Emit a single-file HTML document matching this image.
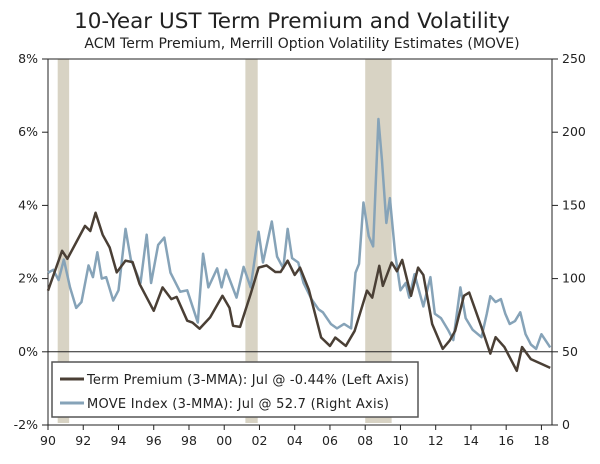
<!DOCTYPE html>
<html><head><meta charset="utf-8"><style>
body{margin:0;background:#fff;}
svg{display:block;font-family:"DejaVu Sans","Liberation Sans",sans-serif;}
</style></head><body>
<svg id="chart" width="600" height="464">
<text x="292" y="28" text-anchor="middle" font-size="21.5" fill="#222">10-Year UST Term Premium and Volatility</text>
<text x="302" y="48" text-anchor="middle" font-size="14" fill="#222">ACM Term Premium, Merrill Option Volatility Estimates (MOVE)</text>
<g id="rec"></g><g id="axes"></g><g id="lines"></g>
<g>
<rect x="52" y="362" width="366" height="55" fill="#fff" stroke="#555" stroke-width="1.5"/>
<line x1="60" y1="379" x2="84" y2="379" stroke="#4a3f35" stroke-width="3"/>
<text x="87" y="384" font-size="13" textLength="322" fill="#222">Term Premium (3-MMA): Jul @ -0.44% (Left Axis)</text>
<line x1="60" y1="403" x2="84" y2="403" stroke="#86a3b8" stroke-width="3"/>
<text x="87" y="408" font-size="13" textLength="302" fill="#222">MOVE Index (3-MMA): Jul @ 52.7 (Right Axis)</text>
</g>
</svg>
<script>
const recessions=[[1990.55,1991.2],[2001.2,2001.9],[2008.0,2009.5]];
const leftTicks=[-2,0,2,4,6,8];
const rightTicks=[0,50,100,150,200,250];
const xTicks=[1990,1992,1994,1996,1998,2000,2002,2004,2006,2008,2010,2012,2014,2016,2018];
const tpDates=[1990,1990.8,1991.1,1991.6,1992.1,1992.4,1992.7,1993.1,1993.5,1993.9,1994.4,1994.8,1995.2,1996,1996.5,1997,1997.3,1997.9,1998.2,1998.6,1999.2,1999.9,2000.3,2000.5,2000.9,2001.5,2001.95,2002.4,2002.9,2003.2,2003.6,2004,2004.3,2004.8,2005.5,2006,2006.3,2006.9,2007.4,2008.1,2008.4,2008.8,2009,2009.5,2009.8,2010.1,2010.6,2011,2011.3,2011.8,2012.4,2012.8,2013.1,2013.6,2013.9,2014.6,2015.1,2015.4,2015.9,2016.6,2016.9,2017.4,2018,2018.5];
const tpValues=[1.67,2.76,2.54,2.99,3.44,3.3,3.8,3.2,2.85,2.17,2.49,2.45,1.85,1.12,1.76,1.44,1.5,0.85,0.8,0.63,0.94,1.53,1.2,0.71,0.68,1.58,2.3,2.36,2.18,2.18,2.49,2.1,2.3,1.7,0.39,0.16,0.39,0.16,0.57,1.67,1.48,2.35,1.8,2.44,2.2,2.51,1.53,2.3,2.1,0.76,0.08,0.31,0.57,1.53,1.62,0.67,-0.05,0.4,0.13,-0.52,0.13,-0.2,-0.33,-0.44];
const mvDates=[1990,1990.3,1990.6,1990.9,1991.25,1991.6,1991.9,1992.3,1992.55,1992.8,1993.05,1993.3,1993.7,1994.0,1994.4,1994.7,1994.95,1995.25,1995.6,1995.85,1996.25,1996.6,1996.95,1997.5,1997.9,1998.5,1998.8,1999.1,1999.6,1999.85,2000.1,2000.7,2001.1,2001.5,2001.95,2002.2,2002.7,2003.0,2003.35,2003.6,2003.85,2004.2,2004.5,2004.95,2005.35,2005.6,2006.05,2006.4,2006.8,2007.2,2007.45,2007.65,2007.9,2008.2,2008.45,2008.75,2008.95,2009.2,2009.4,2009.7,2010.0,2010.3,2010.5,2010.8,2011.3,2011.7,2011.95,2012.3,2012.7,2013.0,2013.4,2013.7,2014.1,2014.6,2014.9,2015.1,2015.4,2015.7,2015.95,2016.2,2016.5,2016.8,2017.1,2017.4,2017.7,2018.0,2018.5];
const mvValues=[104,106,99,113,94,80,84,109,101,118,100,101,85,92,134,113,106,97,130,97,123,128,104,91,92,70,117,94,107,94,106,87,108,94,132,111,139,115,107,134,114,111,97,86,79,77,69,66,69,66,104,110,152,129,122,209,181,138,155,117,92,97,87,103,81,101,76,73,65,58,94,73,65,60,76,88,84,86,76,69,71,77,62,55,52,62,53];
const X0=48,X1=552,Y0=59,Y1=425;
const xs=d=>X0+(d-1990)*(X1-X0)/28.6;
const yL=v=>Y1-(v+2)*(Y1-Y0)/10;
const yR=v=>Y1-v*(Y1-Y0)/250;
const NS="http://www.w3.org/2000/svg";
function mk(t,a,p){const e=document.createElementNS(NS,t);for(const k in a)e.setAttribute(k,a[k]);p.appendChild(e);return e;}
const rec=document.getElementById('rec'),ax=document.getElementById('axes'),ln=document.getElementById('lines');
recessions.forEach(r=>{const e=mk('rect',{x:xs(r[0]),y:Y0,width:xs(r[1])-xs(r[0]),height:Y1-Y0-2,fill:'#d8d3c4'},rec);

});
let e=mk('line',{x1:X0,y1:Y0,x2:X1,y2:Y0,stroke:'#222','stroke-width':1},ax);


e=mk('line',{x1:X0,y1:Y0,x2:X0,y2:Y1,stroke:'#222','stroke-width':1},ax);


e=mk('line',{x1:X1,y1:Y0,x2:X1,y2:Y1,stroke:'#222','stroke-width':1},ax);


e=mk('line',{x1:X0,y1:Y1,x2:X1,y2:Y1,stroke:'#222','stroke-width':1},ax);


e=mk('line',{x1:X0,y1:yL(0),x2:X1,y2:yL(0),stroke:'#222','stroke-width':1},ax);


leftTicks.forEach(v=>{mk('line',{x1:X0-6,y1:yL(v),x2:X0,y2:yL(v),stroke:'#222'},ax);
const t=mk('text',{x:X0-10,y:yL(v)+4,'text-anchor':'end','font-size':12.5,fill:'#222'},ax);t.textContent=v+'%';

});
rightTicks.forEach(v=>{mk('line',{x1:X1,y1:yR(v),x2:X1+6,y2:yR(v),stroke:'#222'},ax);
const t=mk('text',{x:X1+10,y:yR(v)+4,'font-size':12.5,fill:'#222'},ax);t.textContent=v;

});
xTicks.forEach(v=>{mk('line',{x1:xs(v),y1:Y1,x2:xs(v),y2:Y1+5,stroke:'#222'},ax);
const t=mk('text',{x:xs(v),y:Y1+20,'text-anchor':'middle','font-size':12.5,fill:'#222'},ax);t.textContent=String(v).slice(2);

});
const mv=mk('polyline',{points:mvDates.map((d,i)=>xs(d)+','+yR(mvValues[i])).join(' '),fill:'none',stroke:'#86a3b8','stroke-width':2.5,'stroke-linejoin':'round'},ln);


const tp=mk('polyline',{points:tpDates.map((d,i)=>xs(d)+','+yL(tpValues[i])).join(' '),fill:'none',stroke:'#4a3f35','stroke-width':2.5,'stroke-linejoin':'round'},ln);


</script>
</body></html>
